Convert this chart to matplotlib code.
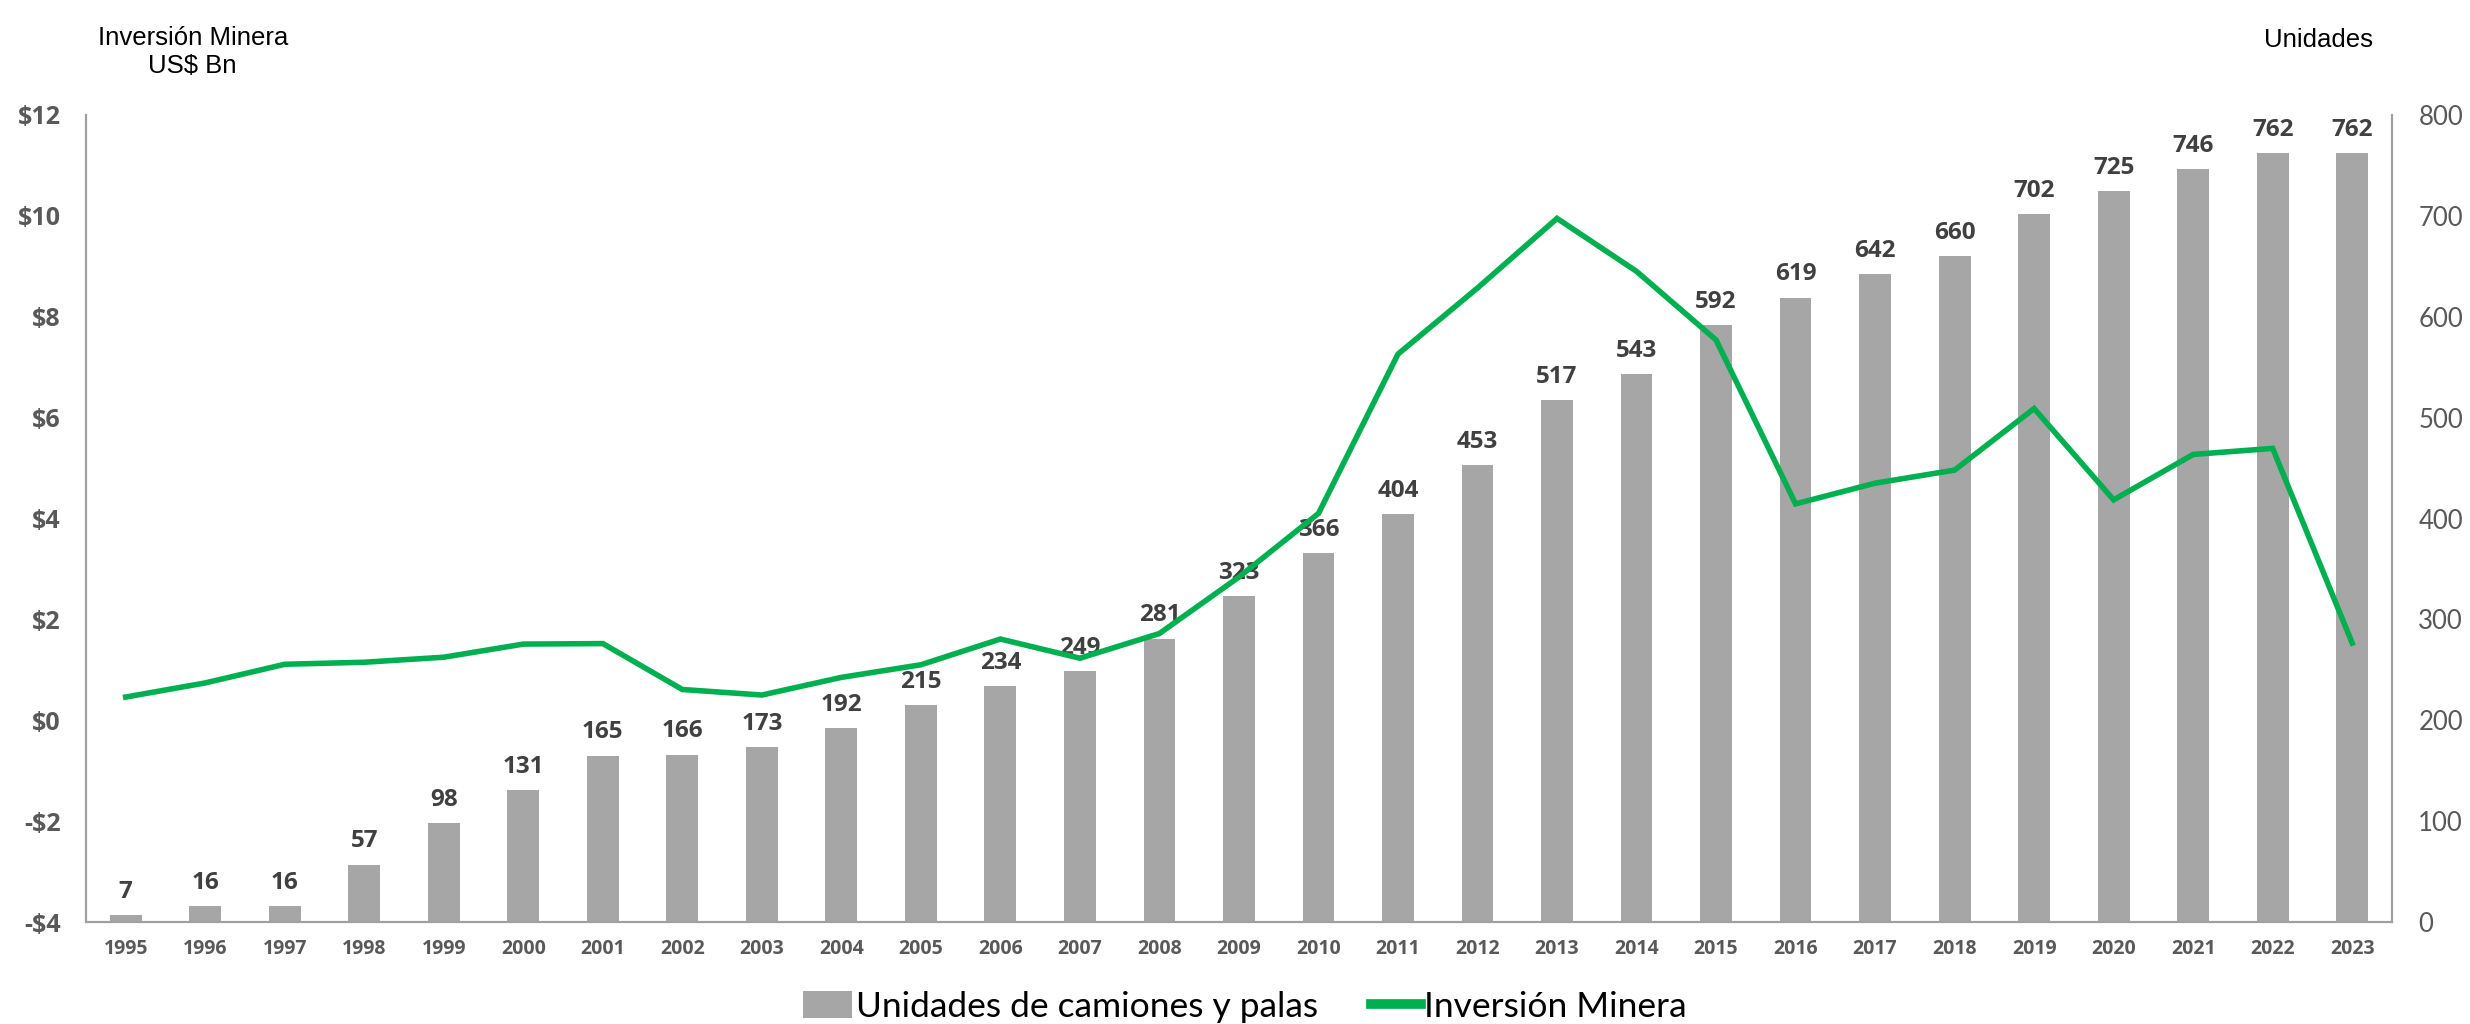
import numpy as np
import matplotlib.pyplot as plt
from matplotlib.patches import Patch
from matplotlib.lines import Line2D

years = list(range(1995, 2024))
unidades = [7, 16, 16, 57, 98, 131, 165, 166, 173, 192, 215, 234, 249, 281, 323,
            366, 404, 453, 517, 543, 592, 619, 642, 660, 702, 725, 746, 762, 762]
inversion = [0.46, 0.74, 1.11, 1.15, 1.25, 1.51, 1.52, 0.61, 0.50, 0.85, 1.10, 1.61,
             1.23, 1.72, 2.84, 4.10, 7.26, 8.57, 9.95, 8.90, 7.54, 4.29, 4.70, 4.96,
             6.18, 4.37, 5.27, 5.39, 1.53]
left_ticks = [-4, -2, 0, 2, 4, 6, 8, 10, 12]
right_ticks = [0, 100, 200, 300, 400, 500, 600, 700, 800]

bar_color = "#A6A6A6"
line_color = "#00B050"
tick_color = "#595959"
spine_color = "#A0A0A0"
bold_font = "Open Sans"

fig = plt.figure(figsize=(24.7, 10.24), dpi=100)
ax = fig.add_axes([0.0348, 0.0996, 0.9336, 0.7881])
ax2 = ax.twinx()

x = np.arange(len(years))

# bars on the right axis
bars = ax2.bar(x, unidades, width=0.4, color=bar_color, zorder=2)
for xi, v in zip(x, unidades):
    ax2.annotate(str(v), (xi, v), xytext=(0, 8), textcoords="offset points",
                 ha="center", va="bottom", fontsize=17.5, fontweight="bold",
                 color="#404040", family=bold_font)
ax2.set_ylim(0, 800)
ax2.set_yticks(right_ticks)
ax2.set_yticklabels([str(t) for t in right_ticks], fontsize=18.5, color=tick_color,
                    family="Lato")

# line on the left axis, drawn above the bars
ax.plot(x, inversion, color=line_color, lw=4, solid_joinstyle="miter", zorder=3)
ax.set_zorder(ax2.get_zorder() + 1)
ax.patch.set_visible(False)
ax.set_ylim(-4, 12)
ax.set_yticks(left_ticks)
ax.set_yticklabels([("-$%d" % -t) if t < 0 else ("$%d" % t) for t in left_ticks],
                   fontsize=18, fontweight="bold", color=tick_color, family=bold_font)
ax.set_xlim(-0.5, len(years) - 0.5)
ax.set_xticks(x)
ax.set_xticklabels([str(y) for y in years], fontsize=14, fontweight="bold",
                   color=tick_color, family=bold_font)

for a in (ax, ax2):
    a.spines["top"].set_visible(False)
    for s in ("left", "right", "bottom"):
        a.spines[s].set_color(spine_color)
        a.spines[s].set_linewidth(1.5)
ax.tick_params(axis="y", length=0, pad=18)
ax.tick_params(axis="x", length=0, pad=12)
ax2.tick_params(axis="y", length=0, pad=19)

fig.text(0.078, 0.975, "Inversión Minera\nUS$ Bn", ha="center", va="top",
         fontsize=18.5, family="Liberation Sans", linespacing=1.25)
fig.text(0.9385, 0.961, "Unidades", ha="center", va="center",
         fontsize=18.5, family="Liberation Sans")

handles = [Patch(facecolor=bar_color, label="Unidades de camiones y palas"),
           Line2D([0], [0], color=line_color, lw=7, label="Inversión Minera")]
fig.legend(handles=handles, loc="lower center", bbox_to_anchor=(0.504, -0.03),
           ncol=2, frameon=False, handlelength=1.4, handleheight=0.8,
           handletextpad=0.1, columnspacing=1.5, prop={"family": "Lato", "size": 25.5})

fig.savefig("out.png", dpi=100)
